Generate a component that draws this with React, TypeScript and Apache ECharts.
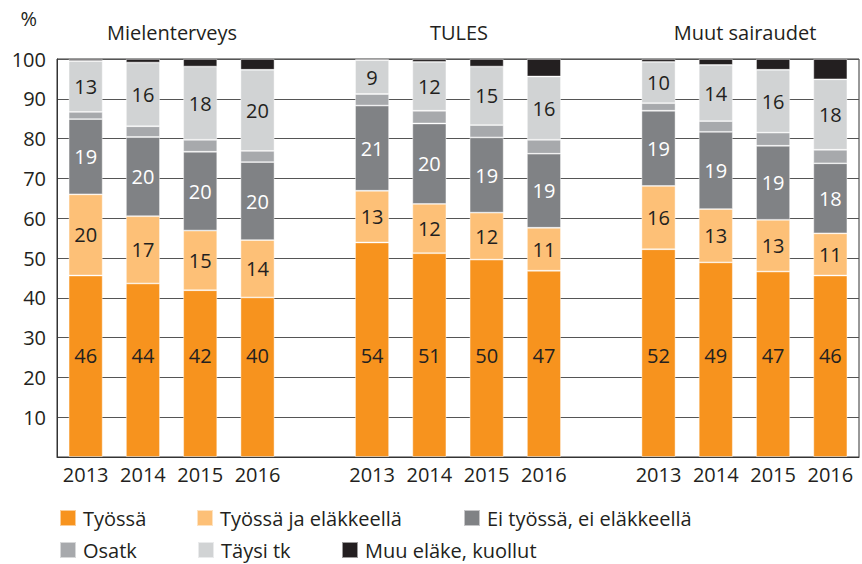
import React, { useEffect, useRef } from "react";
import * as echarts from "echarts";

const years = ["2013", "2014", "2015", "2016"];
const groupTitles = ["Mielenterveys", "TULES", "Muut sairaudet"];
const yTicks = [0, 10, 20, 30, 40, 50, 60, 70, 80, 90, 100];

// values per bar, 12 bars: Mielenterveys 2013-2016, TULES 2013-2016, Muut sairaudet 2013-2016
const tyossa = [45.6, 43.6, 41.9, 40.1, 53.9, 51.2, 49.6, 46.8, 52.2, 48.9, 46.6, 45.6];
const tyossaJaElakkeella = [20.4, 16.9, 15.0, 14.4, 13.0, 12.4, 11.8, 10.8, 15.9, 13.4, 13.0, 10.6];
const eiTyossa = [18.9, 19.9, 19.8, 19.6, 21.4, 20.2, 18.9, 18.6, 18.9, 19.4, 18.6, 17.6];
const osatk = [1.8, 2.7, 3.0, 2.8, 2.9, 3.2, 3.1, 3.5, 1.9, 2.7, 3.3, 3.4];
const taysiTk = [12.8, 16.0, 18.4, 20.4, 8.5, 12.3, 14.7, 15.9, 10.4, 14.1, 15.8, 17.7];
const muuElake = [0.5, 0.9, 1.9, 2.7, 0.3, 0.7, 1.9, 4.4, 0.7, 1.5, 2.7, 5.1];

const seriesNames = [
  "Työssä",
  "Työssä ja eläkkeellä",
  "Ei työssä, ei eläkkeellä",
  "Osatk",
  "Täysi tk",
  "Muu eläke, kuollut",
];
const colors = ["#F7931E", "#FDC077", "#808285", "#A7A9AC", "#D1D3D4", "#231F20"];
const labelColors = ["#231F20", "#231F20", "#FFFFFF", null, "#231F20", null];

// categories with a blank slot between groups
const categories: string[] = [];
groupTitles.forEach((_, gi) => {
  years.forEach((y) => categories.push(y));
  if (gi < groupTitles.length - 1) categories.push("");
});

function withGaps(values: number[]): (number | null)[] {
  const out: (number | null)[] = [];
  for (let g = 0; g < groupTitles.length; g++) {
    for (let i = 0; i < years.length; i++) out.push(values[g * years.length + i]);
    if (g < groupTitles.length - 1) out.push(null);
  }
  return out;
}

const FONT = "Open Sans";
const TEXT = "#231F20";

export default function App() {
  const ref = useRef<HTMLDivElement>(null);

  useEffect(() => {
    if (!ref.current) return;
    const chart = echarts.init(ref.current, undefined, { renderer: "svg" });
    const allValues = [tyossa, tyossaJaElakkeella, eiTyossa, osatk, taysiTk, muuElake];

    const series = allValues.map((vals, si) => {
      const showLabel = labelColors[si] !== null;
      return {
        name: seriesNames[si],
        type: "bar",
        stack: "total",
        barWidth: 34,
        data: withGaps(vals),
        itemStyle: {
          color: colors[si],
          borderColor: "rgba(255,255,255,0.55)",
          borderWidth: 0.8,
        },
        label: {
          show: showLabel,
          position: si === 0 ? "insideBottom" : "inside",
          distance: si === 0 ? 92 : 5,
          color: labelColors[si] || TEXT,
          fontFamily: FONT,
          fontSize: 20,
          formatter: (p: any) => String(Math.round(p.value)),
        },
        emphasis: { disabled: true },
      };
    });

    const legendPos = [
      { left: 59, top: 508 },
      { left: 196, top: 508 },
      { left: 463, top: 508 },
      { left: 59, top: 540 },
      { left: 197, top: 540 },
      { left: 341, top: 540 },
    ];

    const legends = seriesNames.map((n, i) => ({
      data: [n],
      left: legendPos[i].left,
      top: legendPos[i].top,
      padding: 0,
      itemWidth: 16,
      itemHeight: 16,
      icon: "rect",
      selectedMode: false,
      textStyle: {
        fontFamily: FONT,
        fontSize: 20,
        color: TEXT,
        lineHeight: 20,
        padding: [0, 0, 0, 2],
      },
    }));

    const titleX = [172, 459, 745];

    chart.setOption({
      animation: false,
      textStyle: { fontFamily: FONT },
      grid: {
        left: 57,
        right: 3,
        top: 59,
        bottom: 107,
        show: true,
        borderColor: "#333",
        borderWidth: 1,
        backgroundColor: "transparent",
      },
      legend: legends,
      graphic: groupTitles.map((t, i) => ({
        type: "text",
        x: titleX[i],
        y: 32,
        style: {
          text: t,
          fontFamily: FONT,
          fontSize: 20,
          fill: TEXT,
          textAlign: "center",
          textVerticalAlign: "middle",
        },
      })),
      xAxis: {
        type: "category",
        data: categories,
        axisTick: { show: false },
        axisLine: { lineStyle: { color: "#333", width: 1 } },
        axisLabel: {
          fontFamily: FONT,
          fontSize: 20,
          color: TEXT,
          margin: 7,
          interval: 0,
        },
      },
      yAxis: {
        type: "value",
        min: yTicks[0],
        max: yTicks[yTicks.length - 1],
        interval: 10,
        name: "%",
        nameLocation: "end",
        nameGap: 41,
        nameTextStyle: {
          fontFamily: FONT,
          fontSize: 20,
          color: TEXT,
          align: "right",
          verticalAlign: "middle",
          padding: [0, 20, 0, 0],
        },
        axisLine: { show: true, lineStyle: { color: "#333", width: 1 } },
        axisTick: { show: false },
        splitLine: { lineStyle: { color: "#555", width: 1 } },
        axisLabel: {
          fontFamily: FONT,
          fontSize: 20,
          color: TEXT,
          margin: 11,
          formatter: (v: number) => (v === 0 ? "" : String(v)),
        },
      },
      series,
    });

    return () => chart.dispose();
  }, []);

  return (
    <div
      ref={ref}
      style={{ position: "fixed", left: 0, top: 0, width: 862, height: 564, background: "#fff" }}
    />
  );
}
